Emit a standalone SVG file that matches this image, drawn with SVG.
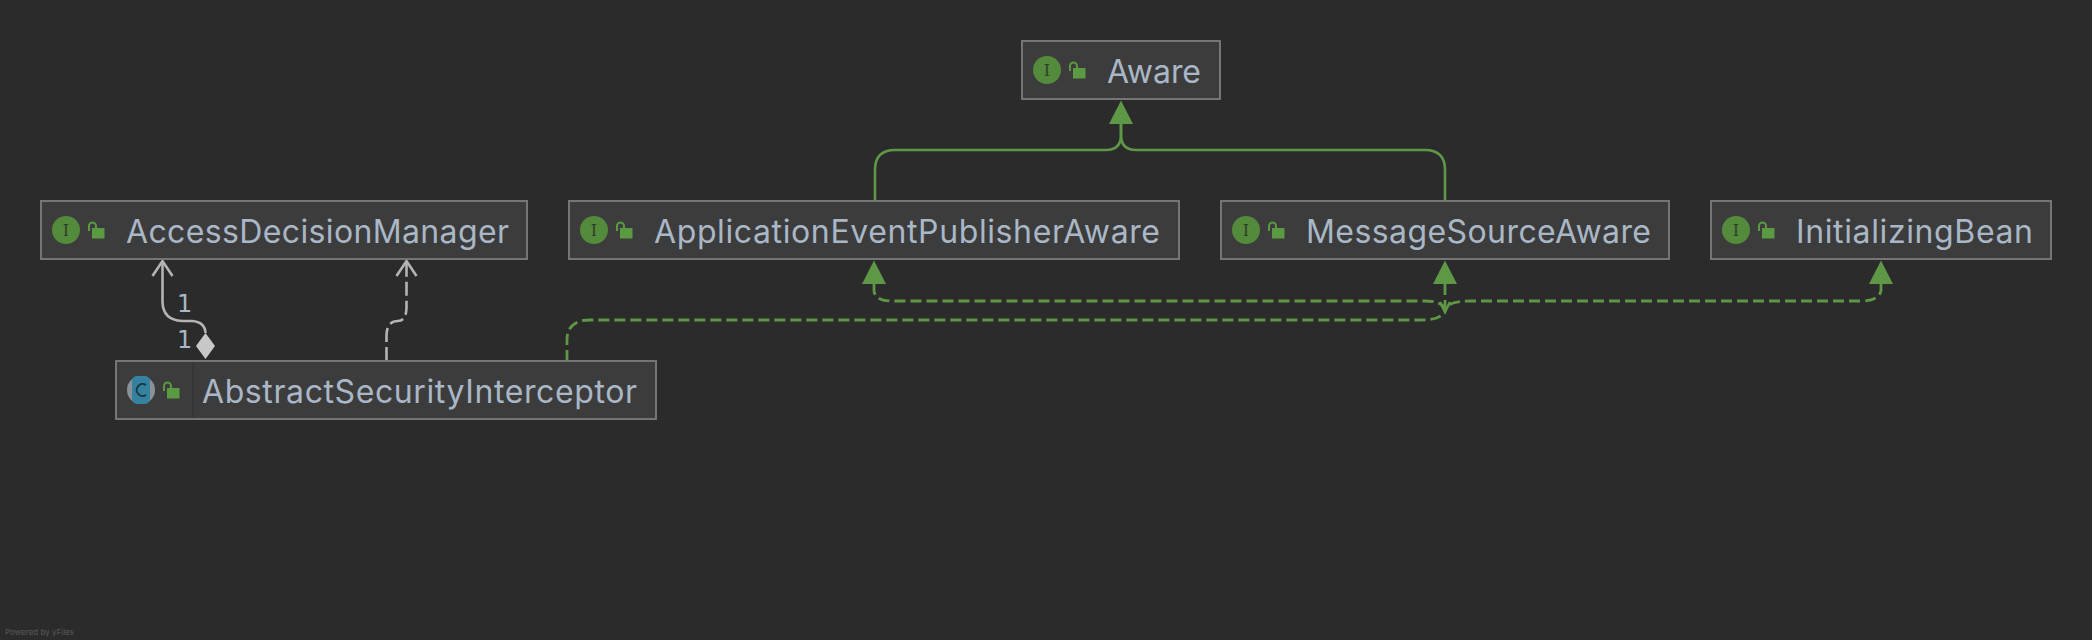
<svg xmlns="http://www.w3.org/2000/svg" width="2092" height="640" viewBox="0 0 2092 640">
<style>
.box{fill:#3c3c3c;stroke:#757575;stroke-width:2}
.name{font-family:Inter,"Liberation Sans",sans-serif;font-size:32px;fill:#a9b7c6}
.ig{fill:#2f4028;font-family:"DejaVu Serif","Liberation Serif",serif;font-size:16px;text-anchor:middle}
.num{font-family:"DejaVu Sans","Liberation Sans",sans-serif;font-size:24px;fill:#a9b7c6}
.g{fill:none;stroke:#5e9746;stroke-width:2.6}
.gd{fill:none;stroke:#5e9746;stroke-width:2.800;stroke-dasharray:11 5}
.w{fill:none;stroke:#b4b4b4;stroke-width:2.600}
.wd{fill:none;stroke:#b4b4b4;stroke-width:2.600;stroke-dasharray:14 5}
.tri{fill:#5e9746}
</style>
<defs>
<g id="lock"><path d="M1 9V4a3.500 3.500 0 0 1 7 0v2" fill="none" stroke="#5a9a42" stroke-width="2"/><rect x="4" y="6" width="12.500" height="10.500" fill="#5a9a42"/></g>
<g id="iface"><circle cx="14" cy="14" r="14" fill="#538a3c"/><text x="14" y="20" class="ig">I</text></g>
</defs>
<rect width="2092" height="640" fill="#2b2b2b"/>
<g id="connectors">
<path class="g" d="M1121 121V135Q1121 150 1106 150H895Q875 150 875 170V201"/>
<path class="g" d="M1121 121V135Q1121 150 1136 150H1425Q1445 150 1445 170V201"/>
<polygon class="tri" points="1121,100.500 1109,124 1133,124"/>
<path class="gd" d="M874 284V290Q874 300 890 301H1425Q1440 301 1445 308"/>
<path class="gd" d="M1881 284V290Q1880 301 1860 301H1470Q1450 301 1445 308"/>
<path class="gd" d="M1445 284V312"/>
<path class="g" d="M1440 302L1445 312L1450 302"/>
<polygon class="tri" points="874,260.500 862,284 886,284"/>
<polygon class="tri" points="1445,260.500 1433,284 1457,284"/>
<polygon class="tri" points="1881,260.500 1869,284 1893,284"/>
<path class="gd" d="M567 361V340Q567 320 590 320H1420Q1440 320 1443 313"/>
<path class="w" d="M162.500 261V302Q163 320 182 321H192Q205 322 205.500 333"/>
<path class="w" d="M152.500 276L162.500 261L172.500 276"/>
<polygon points="205.500,333 215,346 205.500,359 196,346" fill="#c8c8c8"/>
<path class="wd" d="M386.500 361V335Q387 321 398 321Q406 321 406.500 308V261"/>
<path class="w" d="M396.500 276L406.500 261L416.500 276"/>
<text class="num" x="177" y="312">1</text>
<text class="num" x="177" y="348">1</text>
</g>
<g id="aware"><rect class="box" x="1022" y="41" width="198" height="58"/><use href="#iface" x="1033" y="56"/><use href="#lock" x="1069" y="62"/><text class="name" x="1107" y="83" textLength="94">Aware</text></g>
<g id="access"><rect class="box" x="41" y="201" width="486" height="58"/><use href="#iface" x="52" y="216"/><use href="#lock" x="88" y="222"/><text class="name" x="126" y="243" textLength="383">AccessDecisionManager</text></g>
<g id="appevent"><rect class="box" x="569" y="201" width="610" height="58"/><use href="#iface" x="580" y="216"/><use href="#lock" x="616" y="222"/><text class="name" x="654" y="243" textLength="506">ApplicationEventPublisherAware</text></g>
<g id="msgsource"><rect class="box" x="1221" y="201" width="448" height="58"/><use href="#iface" x="1232" y="216"/><use href="#lock" x="1268" y="222"/><text class="name" x="1306" y="243" textLength="345">MessageSourceAware</text></g>
<g id="initbean"><rect class="box" x="1711" y="201" width="340" height="58"/><use href="#iface" x="1722" y="216"/><use href="#lock" x="1758" y="222"/><text class="name" x="1796" y="243" textLength="237">InitializingBean</text></g>
<g id="abstract"><rect class="box" x="116" y="361" width="540" height="58"/><line x1="193" y1="362" x2="193" y2="418" stroke="#353535" stroke-width="1.5"/><circle cx="141" cy="390" r="14" fill="#8a9199"/><rect x="132" y="376" width="18" height="28" rx="5" fill="#33829f"/><path d="M146 385a6 6 0 1 0 0 10" fill="none" stroke="#1f3540" stroke-width="2"/><use href="#lock" x="163" y="382"/><text class="name" x="202" y="403" textLength="435">AbstractSecurityInterceptor</text></g>
<text x="5" y="635" font-family="Inter,'Liberation Sans',sans-serif" font-size="8" fill="#5a5a5a">Powered by yFiles</text>
</svg>
